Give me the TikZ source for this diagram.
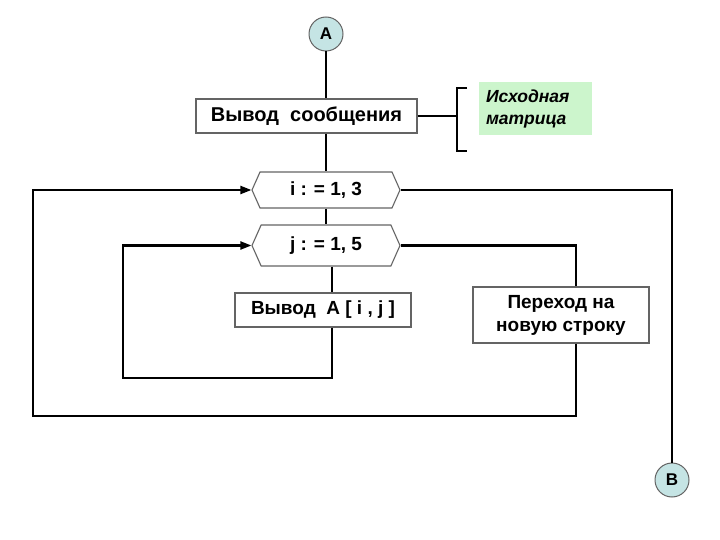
\documentclass[tikz,border=0pt]{standalone}
\usepackage{fontspec}
\setmainfont{Liberation Sans}
\usetikzlibrary{shapes.symbols,arrows.meta}
\definecolor{bleuclair}{RGB}{197,228,228}
\definecolor{vertclair}{RGB}{204,245,204}
\definecolor{bord}{RGB}{100,100,100}

\begin{document}
\begin{tikzpicture}[x=1pt,y=-1pt]
    \tikzstyle{lien}=[->,>={Triangle[length=11pt,width=8pt]},line width=2.2pt]
    \tikzstyle{trait}=[line width=2.2pt]
    \tikzstyle{boite}=[draw=bord,line width=1.1pt,fill=white,inner sep=0pt,align=center,font=\bfseries\fontsize{19}{23}\selectfont]
    \tikzstyle{boucle}=[draw=bord,line width=1.1pt,fill=white,shape=signal,signal to=west and east,signal pointer angle=132,inner sep=0pt,minimum width=148pt,font=\bfseries\fontsize{19}{22}\selectfont]
    \tikzstyle{rond}=[circle,draw=bord,fill=bleuclair,line width=1pt,minimum size=34pt,inner sep=0pt,font=\bfseries\fontsize{17}{20}\selectfont]
  \useasboundingbox (0,0) rectangle (720,540);
  \node[rond] (A) at (326,34) {A};
  \node[boite,minimum width=221pt,minimum height=34pt,font=\bfseries\fontsize{20}{24}\selectfont] (msg) at (306.5,116) {Вывод\ \ сообщения};
  \node[fill=vertclair,text width=99pt,minimum height=51pt,inner sep=7pt,align=left,font=\bfseries\itshape\fontsize{17.5}{22}\selectfont] (note) at (535.5,108.5) {Исходная\\матрица};
  \node[boucle,minimum height=36pt] (i) at (326,190) {i : = 1, 3};
  \node[boucle,minimum height=41pt] (j) at (326,245.5) {j : = 1, 5};
  \node[boite,minimum width=176pt,minimum height=34pt] (outA) at (323,310) {Вывод\ \ A [ i , j ]};
  \node[boite,minimum width=176pt,minimum height=56pt] (ligne) at (561,315) {Переход на\\новую строку};
  \node[rond] (B) at (672,480) {B};
  % coins des boucles
  \coordinate (crochet) at (457,116);
  \coordinate (axeJ) at (332,378);
  \coordinate (gaucheJ) at (123,378);
  \coordinate (axeL) at (576,416);
  \coordinate (gaucheI) at (33,416);
  \draw[trait] (A.south) -- (A.south |- msg.north);
  \draw[trait] (A.south |- msg.south) -- (i.north);
  \draw[trait] (i.south) -- (j.north);
  \draw[trait] (msg.east) -- (crochet);
  \draw[trait] (467,88) -- (457,88) -- (457,151) -- (467,151);
  \draw[trait] (j.south -| axeJ) -- (outA.north -| axeJ);
  \draw[lien] (outA.south -| axeJ) -- (axeJ) -- (gaucheJ) |- (j.west);
  \draw[trait] (j.east) -| (ligne.north -| axeL);
  \draw[lien] (ligne.south -| axeL) -- (axeL) -- (gaucheI) |- (i.west);
  \draw[trait] (i.east) -| (B.north);
\end{tikzpicture}
\end{document}
